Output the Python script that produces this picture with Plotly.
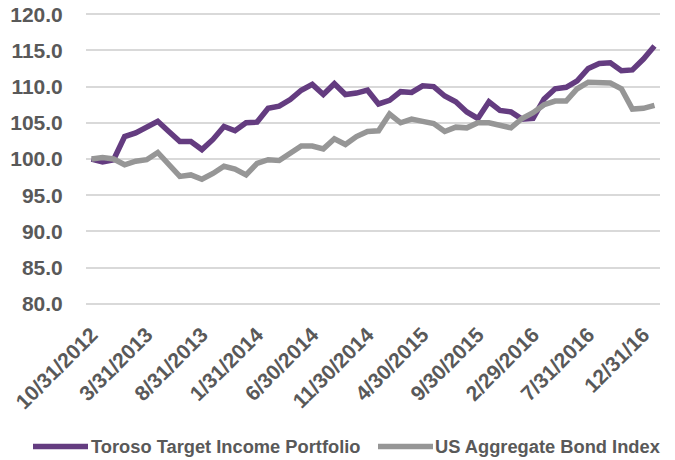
import pandas as pd
import plotly.graph_objects as go

# Month-end observation dates (category axis)
dates = [d.strftime("%m/%d/%Y") for d in pd.date_range("2012-10-31", periods=52, freq="ME")]

toroso = [100.0, 99.6, 99.9, 103.1, 103.6, 104.3, 105.2, 103.8, 102.4, 102.4,
          101.3, 102.7, 104.5, 103.9, 105.0, 105.1, 107.0, 107.3, 108.2, 109.5,
          110.3, 108.9, 110.4, 108.9, 109.1, 109.5, 107.6, 108.1, 109.3, 109.2,
          110.1, 110.0, 108.7, 107.9, 106.5, 105.6, 107.9, 106.7, 106.5, 105.5,
          105.6, 108.3, 109.7, 109.9, 110.8, 112.5, 113.2, 113.3, 112.2, 112.3,
          113.8, 115.6]

agg_bond = [100.0, 100.2, 100.0, 99.2, 99.7, 99.9, 100.9, 99.2, 97.6, 97.8,
            97.2, 98.0, 99.0, 98.6, 97.8, 99.4, 99.9, 99.8, 100.7, 101.8,
            101.8, 101.4, 102.8, 102.0, 103.1, 103.8, 103.9, 106.2, 105.0, 105.5,
            105.2, 104.9, 103.8, 104.4, 104.3, 105.0, 105.0, 104.7, 104.3, 105.6,
            106.4, 107.5, 108.0, 108.0, 109.7, 110.6, 110.6, 110.5, 109.7, 106.9,
            107.0, 107.4]

tick_labels = ["10/31/2012", "3/31/2013", "8/31/2013", "1/31/2014", "6/30/2014",
               "11/30/2014", "4/30/2015", "9/30/2015", "2/29/2016", "7/31/2016",
               "12/31/16"]
tick_positions = dates[::5]

y_ticks = [80, 85, 90, 95, 100, 105, 110, 115, 120]

series_names = ["Toroso Target Income Portfolio", "US Aggregate Bond Index"]
series_colors = ["#643C80", "#969696"]

FONT = "Liberation Sans"
GREY_TXT = "#595959"

# Figure geometry (page body margin is removed below, so figure = window)
W, H = 675, 460
ML, MR, MT, MB = 86, 15, 12, 154
PW, PH = W - ML - MR, H - MT - MB


def px_x(px):
    return (px - ML) / PW


def px_y(py):
    return 1 - (py - MT) / PH


fig = go.Figure()
for name, vals, col in zip(series_names, [toroso, agg_bond], series_colors):
    fig.add_trace(go.Scatter(x=dates, y=vals, mode="lines", name=name,
                             showlegend=False,
                             line=dict(color=col, width=5.5)))

# Legend drawn as swatches + labels (bottom row)
legend_y = 446.5
legend_items = [(33, 88, 88.5), (378, 433, 433)]  # swatch start, swatch end, text start (px)
for (x0, x1, xt), name, col in zip(legend_items, series_names, series_colors):
    fig.add_shape(type="line", xref="paper", yref="paper",
                  x0=px_x(x0), x1=px_x(x1), y0=px_y(legend_y), y1=px_y(legend_y),
                  line=dict(color=col, width=5.5))
    fig.add_annotation(xref="paper", yref="paper", x=px_x(xt), y=px_y(legend_y),
                       xanchor="left", yanchor="middle", showarrow=False, text=name,
                       font=dict(family=FONT, size=18.3, color=GREY_TXT, weight="bold"))

fig.update_layout(
    width=W, height=H,
    margin=dict(l=ML, r=MR, t=MT, b=MB, autoexpand=False),
    paper_bgcolor="white", plot_bgcolor="white",
    font=dict(family=FONT, color=GREY_TXT),
    showlegend=False,
)
fig.update_xaxes(type="category", range=[-0.5, len(dates) - 0.5],
                 tickvals=tick_positions, ticktext=tick_labels, automargin=False,
                 tickangle=-45, showgrid=False, showline=False, zeroline=False,
                 ticks="outside", ticklen=7, tickcolor="rgba(0,0,0,0)",
                 ticklabeloverflow="allow",
                 tickfont=dict(family=FONT, size=21, color=GREY_TXT, weight="bold"))
fig.update_yaxes(range=[79.7, 120.3], tickvals=y_ticks, tickformat=".1f", automargin=False,
                 showgrid=True, gridcolor="#D9D9D9", gridwidth=1.5,
                 zeroline=False, showline=False,
                 ticks="outside", ticklen=18, tickcolor="rgba(0,0,0,0)",
                 ticklabeloverflow="allow",
                 tickfont=dict(family=FONT, size=21, color=GREY_TXT, weight="bold"))

fig.write_html("out.html", config={"displayModeBar": False},
               post_script="document.body.style.margin='0';")
